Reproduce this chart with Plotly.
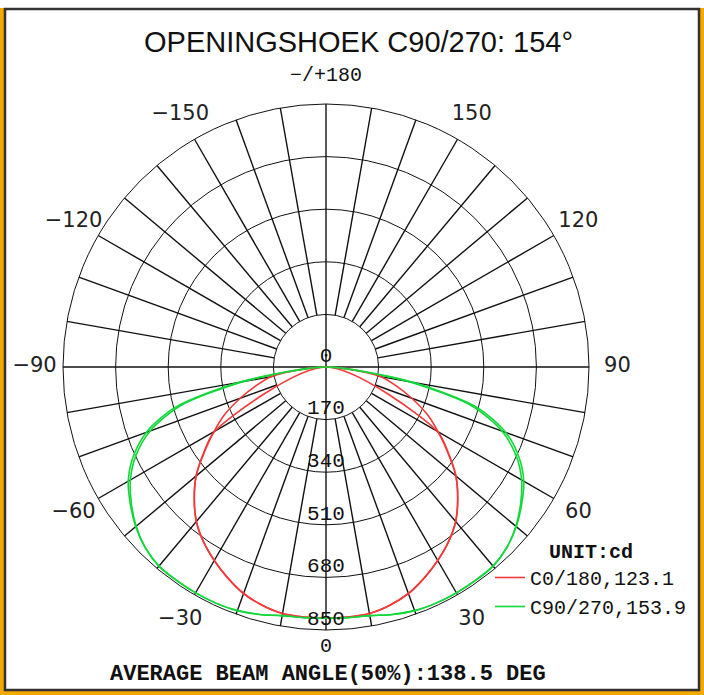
import plotly.graph_objects as go

W, H = 704, 695

# ---------------- data ----------------
gamma = [0, 5, 10, 15, 20, 25, 30, 35, 40, 45, 50, 55, 60, 65, 70, 75, 80, 85, 90]
red_a = [811, 811, 809, 797, 779, 752, 722, 690, 652, 602, 548, 480, 418, 360, 295, 235, 180, 70, 0]
red_b = [811, 811, 809, 797, 779, 752, 722, 690, 652, 602, 548, 482, 415, None, None, None, None, None, 0]
green_a = [812, 813, 816, 828, 838, 842, 843, 842, 840, 826, 803, 772, 738, 688, 618, 505, 285, 70, 0]
green_b = [812, 813, 816, 828, 838, 842, 843, 842, 840, 826, 801, 768, 730, 678, 605, 490, 272, 62, 0]

ring_vals = [170, 340, 510, 680, 850]
ring_labels = ["0", "170", "340", "510", "680", "850"]
ring_label_r = [0, 170, 340, 510, 680, 850]

ang_label_theta = [30, 60, 90, 120, 150, 210, 240, 270, 300, 330]
ang_label_text = ["30", "60", "90", "120", "150", "−150", "−120", "−90", "−60", "−30"]
pole_label_theta = [0, 180]
pole_label_text = ["0", "−/+180"]

legend_names = ["C0/180,123.1", "C90/270,153.9"]
title_text = "OPENINGSHOEK C90/270: 154°"
footer_text = "AVERAGE BEAM ANGLE(50%):138.5 DEG"

# label placement radii (layout, in radial units beyond the 850 rim)
LABEL_R = 942
POLE_R = [905, 942]
R_MAX = 1000   # radial range (outer rim of grid is 850)

RED = "#F23A3A"
GREEN = "#12D83A"


def mirror(vals):
    th, rr = [], []
    for g, v in zip(reversed(gamma), reversed(vals)):
        if v is None:
            continue
        th.append(-g)
        rr.append(v)
    for g, v in zip(gamma[1:], vals[1:]):
        if v is None:
            continue
        th.append(g)
        rr.append(v)
    return th, rr


fig = go.Figure()

# spokes (every 10 deg from ring 170 outward; main axes through centre)
sp_r, sp_t = [], []
for a in range(0, 360, 10):
    start = 0 if a % 90 == 0 else 170
    sp_r += [start, 850, None]
    sp_t += [a, a, None]
fig.add_trace(go.Scatterpolar(r=sp_r, theta=sp_t, mode="lines",
                              line=dict(color="#111", width=1.4),
                              showlegend=False, hoverinfo="skip"))

for vals, col, name, show in [(red_b, RED, legend_names[0], False),
                              (green_b, GREEN, legend_names[1], False),
                              (red_a, RED, legend_names[0], True),
                              (green_a, GREEN, legend_names[1], True)]:
    th, rr = mirror(vals)
    fig.add_trace(go.Scatterpolar(r=rr, theta=th, mode="lines",
                                  line=dict(color=col, width=1.6, shape="spline", smoothing=0.8),
                                  name=name, showlegend=show))

fig.add_trace(go.Scatterpolar(r=ring_label_r, theta=[0] * len(ring_label_r),
                              mode="text", text=ring_labels,
                              textposition="top center",
                              textfont=dict(family="Liberation Mono", size=21, color="#111"),
                              showlegend=False, hoverinfo="skip"))

fig.add_trace(go.Scatterpolar(r=[LABEL_R] * len(ang_label_theta), theta=ang_label_theta,
                              mode="text", text=ang_label_text,
                              textposition="middle center", cliponaxis=False,
                              textfont=dict(family="DejaVu Sans", size=21, color="#222"),
                              showlegend=False, hoverinfo="skip"))

fig.add_trace(go.Scatterpolar(r=POLE_R, theta=pole_label_theta,
                              mode="text", text=pole_label_text,
                              textposition="middle center", cliponaxis=False,
                              textfont=dict(family="Liberation Mono", size=20, color="#111"),
                              showlegend=False, hoverinfo="skip"))

cx, cy = 326, 367
R = 263 * R_MAX / 850


def px(x):
    return x / W


def py(y):
    return 1 - y / H


fig.update_layout(
    width=W, height=H,
    margin=dict(l=0, r=0, t=0, b=0),
    paper_bgcolor="white",
    polar=dict(
        domain=dict(x=[px(cx - R), px(cx + R)], y=[py(cy + R), py(cy - R)]),
        bgcolor="rgba(0,0,0,0)",
        angularaxis=dict(rotation=270, direction="counterclockwise",
                         showticklabels=False,
                         showgrid=False, showline=False, ticks=""),
        radialaxis=dict(range=[0, R_MAX], tickmode="array", tickvals=ring_vals,
                        showticklabels=False, ticks="", showline=False,
                        gridcolor="#111", gridwidth=1.4),
    ),
    legend=dict(x=px(490), y=py(532), xanchor="left", yanchor="top",
                bgcolor="rgba(0,0,0,0)",
                font=dict(family="Liberation Mono", size=20, color="#111"),
                title=dict(text="<b>UNIT:cd</b>", side="top center",
                           font=dict(family="Liberation Mono", size=20, color="#111")),
                tracegroupgap=0, itemwidth=30),
    shapes=[
        dict(type="rect", xref="paper", yref="paper", x0=0, x1=1, y0=0, y1=py(8),
             fillcolor="#F2A900", line=dict(width=0), layer="below"),
        dict(type="rect", xref="paper", yref="paper", x0=px(5), x1=px(699), y0=py(690), y1=py(9),
             fillcolor="white", line=dict(color="#333", width=2.5), layer="below"),
    ],
    annotations=[
        dict(text=title_text, x=px(358), y=py(42), xref="paper", yref="paper",
             xanchor="center", yanchor="middle",
             showarrow=False, font=dict(family="Liberation Sans", size=29, color="#111")),
        dict(text="<b>" + footer_text + "</b>", x=px(328), y=py(674), xref="paper", yref="paper",
             xanchor="center", yanchor="middle",
             showarrow=False, font=dict(family="Liberation Mono", size=22, color="#111")),
    ],
)

fig.write_html("out.html", config={"displayModeBar": False},
               post_script="document.body.style.margin='0';")
